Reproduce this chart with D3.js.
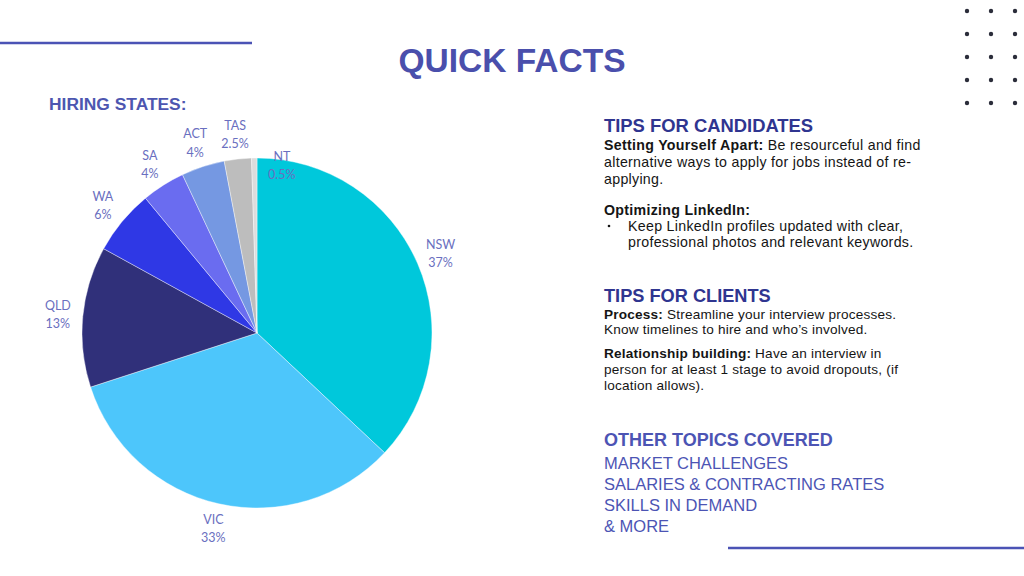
<!DOCTYPE html>
<html>
<head>
<meta charset="utf-8">
<script src="https://cdn.jsdelivr.net/npm/d3@7"></script>
<style>
  body { margin: 0; background: #fff; }
  svg { display: block; }
</style>
</head>
<body>
<div id="chart"></div>
<script>
// データ
const states = ['NSW', 'VIC', 'QLD', 'WA', 'SA', 'ACT', 'TAS', 'NT'];
const shares = [37, 33, 13, 6, 4, 4, 2.5, 0.5];
const shareLabels = ['37%', '33%', '13%', '6%', '4%', '4%', '2.5%', '0.5%'];
const sliceColors = ['#00c8db', '#4dc6fb', '#30307a', '#2f38e5', '#6a6cf0', '#7598e2', '#bdbdbd', '#dcdcdc'];

const otherTopics = ['MARKET CHALLENGES', 'SALARIES & CONTRACTING RATES', 'SKILLS IN DEMAND', '& MORE'];

const width = 1024;
const height = 576;
const pieCenter = {x: 257, y: 333};
const radius = 175;

const svg = d3.select('#chart')
  .append('svg')
  .attr('width', width)
  .attr('height', height);

// 飾りの線
svg.append('line').attr('x1', 0).attr('x2', 252).attr('y1', 43).attr('y2', 43)
  .attr('stroke', '#4b53b5').attr('stroke-width', 2.5);
svg.append('line').attr('x1', 728).attr('x2', 1024).attr('y1', 548).attr('y2', 548)
  .attr('stroke', '#4b53b5').attr('stroke-width', 2.5);

// 右上のドット
const dotX = d3.scalePoint().domain([0, 1, 2]).range([967, 1015]);
const dotY = d3.scalePoint().domain([0, 1, 2, 3, 4]).range([11, 103]);
svg.append('g').selectAll('circle')
  .data(d3.cross(dotX.domain(), dotY.domain()))
  .enter().append('circle')
  .attr('cx', d => dotX(d[0]))
  .attr('cy', d => dotY(d[1]))
  .attr('r', 2.2)
  .attr('fill', '#2b2d3a');

// タイトル
svg.append('text')
  .attr('x', 512).attr('y', 72)
  .attr('text-anchor', 'middle')
  .style('font-family', 'Liberation Sans, Arial, sans-serif')
  .style('font-weight', 'bold')
  .style('font-size', '33.5px')
  .attr('fill', '#4a4fac')
  .text('QUICK FACTS');

svg.append('text')
  .attr('x', 49).attr('y', 110)
  .style('font-family', 'Liberation Sans, Arial, sans-serif')
  .style('font-weight', 'bold')
  .style('font-size', '17.4px')
  .attr('fill', '#4d56b0')
  .text('HIRING STATES:');

// 円グラフ
const data = states.map((s, i) => ({state: s, value: shares[i], label: shareLabels[i]}));
const color = d3.scaleOrdinal().domain(states).range(sliceColors);

const pie = d3.pie().sort(null).value(d => d.value);
const arc = d3.arc().innerRadius(0).outerRadius(radius);
const labelArc = d3.arc().innerRadius(200).outerRadius(200);

const g = svg.append('g')
  .attr('transform', 'translate(' + pieCenter.x + ',' + pieCenter.y + ')');

const arcs = pie(data);

g.selectAll('path')
  .data(arcs)
  .enter().append('path')
  .attr('d', arc)
  .attr('fill', d => color(d.data.state))
  .attr('stroke', '#ffffff')
  .attr('stroke-width', 0.4);

const labels = g.selectAll('.lbl')
  .data(arcs)
  .enter().append('text')
  .attr('class', 'lbl')
  .attr('transform', d => {
    const c = labelArc.centroid(d);
    // NTは小さいので右にずらす
    if (d.data.state === 'NT') { c[0] += 28; c[1] += 32; }
    return 'translate(' + c[0] + ',' + c[1] + ')';
  })
  .attr('text-anchor', 'middle')
  .style('font-family', 'Lato, sans-serif')
  .style('font-size', '12.5px')
  .attr('fill', '#6a6fc0');

labels.append('tspan').attr('x', 0).attr('dy', '-0.35em').text(d => d.data.state);
labels.append('tspan').attr('x', 0).attr('dy', '1.45em').text(d => d.data.label);

// 右側のテキスト
const right = svg.append('g')
  .style('font-family', 'Liberation Sans, Arial, sans-serif');

function heading(y, txt, col, size) {
  right.append('text').attr('x', 604).attr('y', y)
    .style('font-weight', 'bold').style('font-size', size + 'px')
    .attr('fill', col).text(txt);
}

function line(x, y, size, ls, bold, rest) {
  const t = right.append('text').attr('x', x).attr('y', y)
    .style('font-size', size + 'px')
    .style('letter-spacing', ls + 'px')
    .attr('fill', '#151515');
  if (bold) t.append('tspan').style('font-weight', 'bold').text(bold);
  if (rest) t.append('tspan').text(rest);
}

heading(132, 'TIPS FOR CANDIDATES', '#2f3590', 18.4);
line(604, 150, 14.2, 0.3, 'Setting Yourself Apart:', ' Be resourceful and find');
line(604, 167, 14.2, 0.3, null, 'alternative ways to apply for jobs instead of re-');
line(604, 183.5, 14.2, 0.3, null, 'applying.');
line(604, 214.5, 14.2, 0.3, 'Optimizing LinkedIn:', null);
right.append('circle').attr('cx', 609).attr('cy', 226).attr('r', 1.3).attr('fill', '#151515');
line(628, 230.5, 14.2, 0.3, null, 'Keep LinkedIn profiles updated with clear,');
line(628, 246.5, 14.2, 0.3, null, 'professional photos and relevant keywords.');

heading(302, 'TIPS FOR CLIENTS', '#2f3590', 18.2);
line(604, 318.5, 13.6, 0.2, 'Process:', ' Streamline your interview processes.');
line(604, 334, 13.6, 0.2, null, 'Know timelines to hire and who\u2019s involved.');
line(604, 358, 13.6, 0.2, 'Relationship building:', ' Have an interview in');
line(604, 374, 13.6, 0.2, null, 'person for at least 1 stage to avoid dropouts, (if');
line(604, 389.5, 13.6, 0.2, null, 'location allows).');

heading(446, 'OTHER TOPICS COVERED', '#4c54b4', 18);
right.selectAll('.topic')
  .data(otherTopics)
  .enter().append('text')
  .attr('class', 'topic')
  .attr('x', 604)
  .attr('y', (d, i) => 468.5 + i * 21.3)
  .style('font-size', '16.5px')
  .attr('fill', '#4c54b4')
  .text(d => d);
</script>
</body>
</html>
